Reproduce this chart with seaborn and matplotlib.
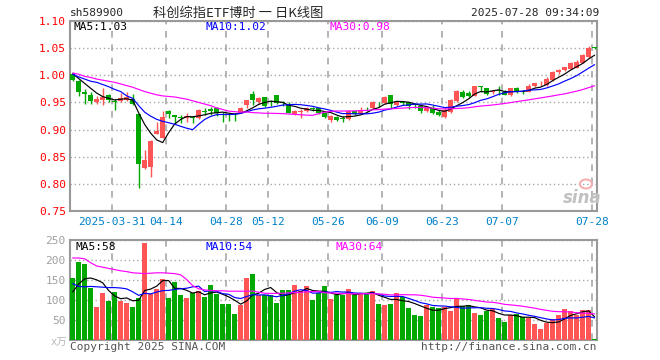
import numpy as np
import pandas as pd
import matplotlib
matplotlib.use("Agg")
import matplotlib.pyplot as plt
import seaborn as sns
from matplotlib.patches import Ellipse

# trading days in the window (2025-03-20 .. 2025-07-28, exchange holidays removed)
holidays = ["2025-04-04", "2025-05-01", "2025-05-02", "2025-05-05", "2025-06-02"]
dates = pd.bdate_range("2025-03-20", "2025-07-28")
dates = dates[~dates.isin(pd.to_datetime(holidays))]

tick_dates = ["2025-03-31", "2025-04-14", "2025-04-28", "2025-05-12", "2025-05-26",
              "2025-06-09", "2025-06-23", "2025-07-07", "2025-07-28"]
tick_labels = ["2025-03-31", "04-14", "04-28", "05-12", "05-26", "06-09", "06-23", "07-07", "07-28"]

opens = [1.003, 0.990, 0.969, 0.963, 0.951, 0.954, 0.963, 0.953, 0.952, 0.955,
         0.957, 0.928, 0.829, 0.831, 0.892, 0.885, 0.934, 0.926, 0.923, 0.921,
         0.922, 0.921, 0.935, 0.937, 0.939, 0.929, 0.928, 0.927, 0.931, 0.946,
         0.966, 0.950, 0.960, 0.953, 0.963, 0.950, 0.948, 0.929, 0.933, 0.934,
         0.939, 0.940, 0.931, 0.917, 0.923, 0.921, 0.919, 0.934, 0.929, 0.938,
         0.940, 0.951, 0.949, 0.963, 0.946, 0.950, 0.950, 0.946, 0.944, 0.935,
         0.939, 0.933, 0.923, 0.933, 0.952, 0.969, 0.968, 0.962, 0.979, 0.977,
         0.969, 0.972, 0.970, 0.963, 0.976, 0.971, 0.970, 0.980, 0.985, 0.983,
         0.991, 1.006, 1.009, 1.012, 1.014, 1.023, 1.034, 1.052]
highs = [1.006, 0.991, 0.974, 0.969, 0.961, 0.977, 0.966, 0.957, 0.968, 0.969,
         0.966, 0.929, 0.862, 0.881, 0.914, 0.935, 0.936, 0.927, 0.927, 0.930,
         0.924, 0.937, 0.940, 0.942, 0.941, 0.932, 0.930, 0.931, 0.942, 0.955,
         0.971, 0.960, 0.960, 0.955, 0.963, 0.952, 0.950, 0.936, 0.937, 0.942,
         0.942, 0.940, 0.932, 0.927, 0.925, 0.925, 0.936, 0.935, 0.941, 0.941,
         0.953, 0.951, 0.962, 0.963, 0.953, 0.952, 0.950, 0.947, 0.944, 0.944,
         0.946, 0.936, 0.939, 0.956, 0.973, 0.972, 0.971, 0.980, 0.980, 0.977,
         0.973, 0.980, 0.972, 0.977, 0.979, 0.973, 0.984, 0.986, 0.989, 0.997,
         1.008, 1.012, 1.016, 1.025, 1.028, 1.040, 1.054, 1.053]
lows = [0.990, 0.961, 0.948, 0.948, 0.948, 0.946, 0.950, 0.936, 0.950, 0.952,
        0.945, 0.793, 0.828, 0.812, 0.891, 0.884, 0.922, 0.910, 0.912, 0.914,
        0.913, 0.919, 0.926, 0.927, 0.925, 0.914, 0.915, 0.916, 0.930, 0.940,
        0.946, 0.947, 0.941, 0.944, 0.947, 0.943, 0.930, 0.927, 0.922, 0.933,
        0.934, 0.929, 0.921, 0.914, 0.915, 0.914, 0.917, 0.927, 0.928, 0.934,
        0.937, 0.942, 0.947, 0.940, 0.944, 0.946, 0.938, 0.940, 0.930, 0.932,
        0.929, 0.925, 0.921, 0.931, 0.950, 0.958, 0.960, 0.961, 0.969, 0.963,
        0.966, 0.963, 0.963, 0.962, 0.967, 0.965, 0.969, 0.979, 0.980, 0.981,
        0.989, 1.003, 1.007, 1.011, 1.013, 1.022, 1.032, 1.049]
closes = [0.992, 0.970, 0.966, 0.952, 0.956, 0.960, 0.954, 0.951, 0.959, 0.960,
          0.948, 0.836, 0.844, 0.879, 0.898, 0.923, 0.928, 0.923, 0.921, 0.925,
          0.921, 0.936, 0.933, 0.935, 0.930, 0.927, 0.926, 0.926, 0.940, 0.954,
          0.954, 0.958, 0.944, 0.951, 0.949, 0.949, 0.931, 0.934, 0.934, 0.940,
          0.938, 0.931, 0.923, 0.925, 0.917, 0.920, 0.934, 0.928, 0.936, 0.937,
          0.951, 0.950, 0.960, 0.948, 0.951, 0.949, 0.944, 0.945, 0.934, 0.940,
          0.931, 0.927, 0.936, 0.954, 0.971, 0.960, 0.962, 0.980, 0.978, 0.966,
          0.971, 0.971, 0.964, 0.976, 0.970, 0.970, 0.980, 0.985, 0.986, 0.994,
          1.006, 1.010, 1.015, 1.023, 1.024, 1.037, 1.051, 1.050]
# volume, 10k shares
volumes = [155, 195, 190, 130, 82, 118, 98, 121, 97, 92,
           82, 105, 243, 115, 128, 152, 105, 146, 113, 105,
           117, 122, 108, 137, 115, 90, 90, 65, 88, 155,
           165, 112, 112, 112, 92, 125, 125, 137, 122, 135,
           100, 117, 135, 102, 113, 112, 127, 112, 117, 117,
           123, 90, 87, 90, 117, 107, 80, 62, 60, 88,
           82, 80, 82, 73, 103, 84, 87, 67, 62, 73,
           77, 55, 45, 62, 65, 58, 55, 40, 28, 42,
           52, 63, 78, 72, 63, 76, 75, 3]

# moving averages at the start need days before the window
ma5_head = [1.003, 0.994, 0.985, 0.976]
ma10_head = [1.002, 0.997, 0.993, 0.989, 0.987, 0.983, 0.979, 0.974, 0.970]
ma30_head = [1.004, 1.002, 0.998, 0.996, 0.993, 0.991, 0.989, 0.987, 0.984, 0.981,
             0.978, 0.974, 0.970, 0.967, 0.964, 0.962, 0.961, 0.960, 0.958, 0.956,
             0.953, 0.950, 0.947, 0.944, 0.940, 0.937, 0.934, 0.933, 0.932]
vma5_head = [120, 140, 153, 155]
vma10_head = [141, 134, 133, 134, 133, 132, 131, 131, 130]
vma30_head = [205, 205, 203, 193, 185, 182, 179, 176, 173, 171,
              168, 167, 166, 167, 168, 168, 167, 166, 163, 151,
              136, 128, 125, 124, 123, 123, 122, 122, 122]

RED = "#ff5555"
GREEN = "#00a800"
GRID = "#a8a8a8"
MONO = "DejaVu Sans Mono"


def moving(series, n, head):
    m = series.rolling(n).mean()
    m.iloc[:len(head)] = head
    return m


df = pd.DataFrame({"date": dates, "open": opens, "high": highs, "low": lows,
                   "close": closes, "volume": volumes})
df["x"] = np.arange(len(df))
df["ma5"] = moving(df["close"], 5, ma5_head)
df["ma10"] = moving(df["close"], 10, ma10_head)
df["ma30"] = moving(df["close"], 30, ma30_head)
df["vma5"] = moving(df["volume"], 5, vma5_head)
df["vma10"] = moving(df["volume"], 10, vma10_head)
df["vma30"] = moving(df["volume"], 30, vma30_head)
colors = np.where(df["close"] >= df["open"], RED, GREEN)

date_pos = {d.strftime("%Y-%m-%d"): i for i, d in enumerate(df["date"])}
tick_pos = [date_pos[d] - 0.4 for d in tick_dates]

sns.set_style("white")
plt.rcParams["font.family"] = [MONO, "Noto Sans CJK SC"]

fig = plt.figure(figsize=(6.6, 3.6), dpi=100)
W, H = 660, 360
ax = fig.add_axes([70 / W, 1 - 211 / H, 527 / W, 190 / H])
axv = fig.add_axes([70 / W, 1 - 340 / H, 527 / W, 100 / H])

# price panel
ax.vlines(df["x"], df["low"], df["high"], colors=colors, lw=1, zorder=3)
body = (df["close"] - df["open"]).abs().clip(lower=0.0015)
ax.bar(df["x"], body, bottom=df[["open", "close"]].min(axis=1), width=0.8,
       color=colors, lw=0, zorder=3)
for col, c in [("ma5", "black"), ("ma10", "#0000ff"), ("ma30", "#ff00ff")]:
    sns.lineplot(x=df["x"], y=df[col], ax=ax, color=c, lw=0.85, legend=False, zorder=4)

ax.set_ylim(0.75, 1.10)
ax.set_yticks(np.arange(0.75, 1.101, 0.05))
ax.set_yticklabels([f"{v:.2f}" for v in np.arange(0.75, 1.101, 0.05)])

# volume panel
axv.bar(df["x"], df["volume"], width=0.8, color=colors, lw=0, zorder=3)
for col, c in [("vma5", "black"), ("vma10", "#0000ff"), ("vma30", "#ff00ff")]:
    sns.lineplot(x=df["x"], y=df[col], ax=axv, color=c, lw=0.85, legend=False, zorder=4)
axv.set_ylim(0, 250)
axv.set_yticks([50, 100, 150, 200, 250])

for a in (ax, axv):
    a.set_xlim(-0.45, 87.4)
    a.set_xticks(tick_pos)
    a.set_xlabel("")
    a.set_ylabel("")
    a.xaxis.grid(True, color=GRID, ls=(0, (4, 4)), lw=1.2)
    a.yaxis.grid(True, color=GRID, ls=(0, (1, 2)), lw=1)
    a.set_axisbelow(True)
    for s in a.spines.values():
        s.set_color("#999999")
        s.set_linewidth(1.5)
    a.tick_params(length=0, pad=3)

ax.set_xticklabels(tick_labels)
ax.tick_params(axis="x", labelcolor="#0080c8", labelsize=8, pad=4)
ax.tick_params(axis="y", labelcolor="red", labelsize=8)
axv.set_xticklabels([])
axv.tick_params(axis="y", labelcolor="#a0a0a0", labelsize=8)

# header texts
fig.text(70 / W, 1 - 13 / H, "sh589900", fontsize=8, va="center")
fig.text(238 / W, 1 - 13 / H, "科创综指ETF博时 一 日K线图", fontsize=9.5, va="center",
         ha="center", family=["Noto Sans CJK SC", MONO])
fig.text(599 / W, 1 - 13 / H, "2025-07-28 09:34:09", fontsize=8, va="center", ha="right")

fig.text(74 / W, 1 - 27 / H, f"MA5:{1.03:.2f}", fontsize=8, va="center", color="black")
fig.text(205 / W, 1 - 27 / H, f"MA10:{1.02:.2f}", fontsize=8, va="center", color="#0000ff")
fig.text(330 / W, 1 - 27 / H, f"MA30:{0.98:.2f}", fontsize=8, va="center", color="#ff00ff")

fig.text(75 / W, 1 - 247 / H, "MA5:58", fontsize=8, va="center", color="black")
fig.text(205 / W, 1 - 247 / H, "MA10:54", fontsize=8, va="center", color="#0000ff")
fig.text(335 / W, 1 - 247 / H, "MA30:64", fontsize=8, va="center", color="#ff00ff")

fig.text(67 / W, 1 - 343 / H, "x万", fontsize=7.5, va="center", ha="right", color="#b8b8b8",
         family=[MONO, "Noto Sans CJK SC"])
fig.text(70 / W, 1 - 347 / H, "Copyright 2025 SINA.COM", fontsize=8, va="center", color="#555555")
fig.text(597 / W, 1 - 347 / H, "http://finance.sina.com.cn", fontsize=8, va="center",
         ha="right", color="#555555")

# sina watermark: word plus the pale red eye above it
fig.text(582 / W, 1 - 198 / H, "sina", fontsize=12, fontweight="bold", fontstyle="italic",
         ha="center", va="center", color="#c0c0c0", family="DejaVu Sans")
fig.add_artist(Ellipse((586 / W, 1 - 184 / H), 12 / W, 9 / H, transform=fig.transFigure,
                       facecolor="none", edgecolor="#f4b0b0", lw=1.5))

fig.savefig("out.png", dpi=100)
